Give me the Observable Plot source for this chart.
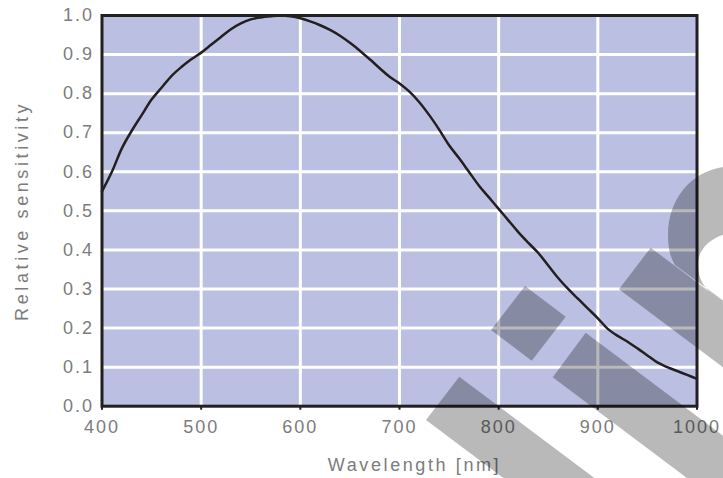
<!DOCTYPE html>
<html><head><meta charset="utf-8">
<script src="https://cdn.jsdelivr.net/npm/d3@7"></script>
<script src="https://cdn.jsdelivr.net/npm/@observablehq/plot@0.6"></script>
<style>
html,body{margin:0;padding:0;background:#fff;}
</style>
</head><body><div id="chart"></div>
<script>
// Data
const wavelength = [400,410,420,430,440,450,460,470,480,490,500,510,520,530,540,550,560,570,580,590,600,610,620,630,640,650,660,670,680,690,700,710,720,730,740,750,760,770,780,790,800,810,820,830,840,850,860,870,880,890,900,910,920,930,940,950,960,970,980,990,1000];
const sensitivity = [0.55,0.60,0.66,0.705,0.745,0.785,0.815,0.845,0.868,0.888,0.905,0.925,0.945,0.965,0.98,0.99,0.995,0.998,1.0,0.998,0.993,0.985,0.975,0.963,0.948,0.93,0.91,0.888,0.865,0.843,0.826,0.805,0.778,0.745,0.708,0.668,0.635,0.60,0.565,0.535,0.505,0.475,0.445,0.418,0.392,0.36,0.328,0.30,0.275,0.25,0.225,0.198,0.18,0.165,0.148,0.13,0.112,0.10,0.09,0.08,0.07];
const xTicks = [400,500,600,700,800,900,1000];
const yTicks = [0,0.1,0.2,0.3,0.4,0.5,0.6,0.7,0.8,0.9,1.0];
const xGrid = [500,600,700,800,900];
const yGrid = [0.1,0.2,0.3,0.4,0.5,0.6,0.7,0.8,0.9];
const xLabel = "Wavelength [nm]";
const yLabel = "Relative sensitivity";

const data = wavelength.map((w, i) => ({w, s: sensitivity[i]}));
const textColor = "#7c7c7c";
const ink = "#231f20";

const chart = Plot.plot({
  width: 723, height: 478,
  marginLeft: 101.5, marginRight: 26.5, marginTop: 15, marginBottom: 72.3,
  style: {fontFamily: "'Liberation Sans', Arial, sans-serif", background: "#fff", letterSpacing: "2px"},
  x: {domain: [400, 1000]},
  y: {domain: [0, 1]},
  marks: [
    Plot.frame({fill: "#bbbfe1", stroke: "none"}),
    Plot.gridX(xGrid, {stroke: "#fff", strokeOpacity: 1, strokeWidth: 3}),
    Plot.gridY(yGrid, {stroke: "#fff", strokeOpacity: 1, strokeWidth: 3}),
    Plot.line(data, {x: "w", y: "s", stroke: ink, strokeWidth: 2.5, curve: "catmull-rom"}),
    Plot.frame({stroke: ink, strokeWidth: 3}),
    Plot.axisX(xTicks, {tickSize: 4, tickPadding: 10, stroke: ink, strokeWidth: 2, fill: textColor, fontSize: 18, tickFormat: d => String(d), label: null}),
    Plot.axisY(yTicks, {tickSize: 0, tickPadding: 8, fill: textColor, fontSize: 18, tickFormat: d3.format(".1f"), label: null}),
    Plot.text([xLabel], {frameAnchor: "bottom", dy: 59, dx: 15, fill: textColor, fontSize: 18, textAnchor: "middle", lineAnchor: "middle"}),
    Plot.text([yLabel], {frameAnchor: "left", dx: -80, rotate: -90, fill: textColor, fontSize: 18, textAnchor: "middle", lineAnchor: "middle"})
  ]
});

d3.select(chart).selectAll("text").each(function() {
  const t = this.textContent;
  if (t === xLabel) this.style.letterSpacing = "2.6px";
  if (t === yLabel) this.style.letterSpacing = "3.6px";
});

// Decorative watermark overlay (not data)
const wm = d3.select(chart).append("g").attr("opacity", 0.27).attr("fill", "#000");
wm.append("path").attr("d", "M525,286 L565.7,316.7 L531.7,360.7 L491,330 Z");
wm.append("path").attr("d", "M459.3,376.7 L619.3,496.7 L586,540 L426,420 Z");
wm.append("path").attr("d", "M585.7,332.7 L825.7,512.7 L792.7,557.3 L552.7,377.3 Z");
wm.append("path").attr("d", "M650.7,247.7 L810.7,367.7 L779,409.3 L619,289.3 Z");
wm.append("path").attr("fill-rule", "evenodd").attr("d",
  "M740,162 L723,167 C690,172 668,200 668,235 C668,250 671,258 675,265 L740,313 Z " +
  "M740,232 C720,232 700,243 698,262 C697,276 703,287 712,294 L740,316 Z");

document.getElementById("chart").appendChild(chart);
</script>
</body></html>
